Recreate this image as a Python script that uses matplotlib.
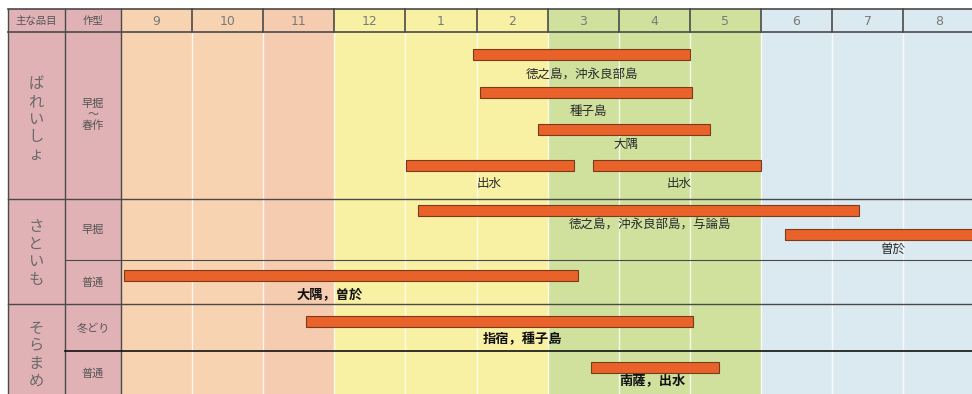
import matplotlib.pyplot as plt
from matplotlib.patches import Rectangle

plt.rcParams['font.family'] = ['Noto Sans CJK JP', 'DejaVu Sans']

# months from September; x axis unit = one month, 0 = start of Sep
months = ['9', '10', '11', '12', '1', '2', '3', '4', '5', '6', '7', '8']
month_colors = ['#f7d3b1', '#f7d3b1', '#f6ccb1',
                '#f8f0a3', '#f8f0a3', '#f8f0a3',
                '#d0e19e', '#d0e19e', '#d0e19e',
                '#dbe9f0', '#dbe9f0', '#dbe9f0']

crops = ['ばれいしょ', 'さといも', 'そらまめ']
crop_types = ['早掘\n～\n春作', '早掘', '普通', '冬どり', '普通']

bar_start = [4.95, 5.05, 5.86, 4.01, 6.64, 4.18, 9.34, 0.04, 2.60, 6.61]
bar_end = [8.00, 8.03, 8.28, 6.37, 9.00, 10.38, 12.30, 6.43, 8.05, 8.41]
bar_labels = ['徳之島，沖永良部島', '種子島', '大隅', '出水', '出水',
              '徳之島，沖永良部島，与論島', '曽於', '大隅，曽於',
              '指宿，種子島', '南薩，出水']
label_x = [6.48, 6.58, 7.10, 5.18, 7.85, 7.44, 10.86, 2.94, 5.64, 7.48]

# layout (pixels from top)
bar_y = [54.5, 92, 129.5, 165.5, 165.5, 210, 234.5, 275, 321.5, 367]
lab_y = [74, 111, 144, 183, 183, 225.5, 249, 294, 339, 380]
bold = [False] * 7 + [True] * 3
crop_y = [119, 253, 355]
type_y = [115, 230, 283, 328, 374]

MW = 71.1
def px(x):
    return (x - 121) / MW

fig = plt.figure(figsize=(9.72, 3.94), dpi=100)
ax = fig.add_axes([0, 0, 1, 1])
ax.set_xlim(px(0), px(972))
ax.set_ylim(394, 0)
ax.axis('off')

top, head_bot, bottom = 9, 32, 394
pink = '#e0b2b5'
grid = '#4a4a4a'

# month columns
for i, c in enumerate(month_colors):
    ax.add_patch(Rectangle((i, top), 1, bottom - top, color=c, zorder=0, lw=0))
    if i > 0:
        ax.plot([i, i], [head_bot, bottom], color='white', lw=1, alpha=0.8, zorder=1)
        ax.plot([i, i], [top, head_bot], color=grid, lw=1.2, zorder=3)
    ax.text(i + 0.5, 21, months[i], ha='center', va='center', fontsize=9,
            color='#7a7a7a', family=['DejaVu Sans'])

# left columns
ax.add_patch(Rectangle((px(8), top), px(121) - px(8), bottom - top, color=pink, zorder=0, lw=0))
for xx in [8, 65, 121]:
    ax.plot([px(xx), px(xx)], [top, bottom], color=grid, lw=1, zorder=3)
ax.text(px(36), 20.5, '主な品目', ha='center', va='center', fontsize=7.5, color='#555555')
ax.text(px(93), 20.5, '作型', ha='center', va='center', fontsize=7.5, color='#555555')

for name, y in zip(crops, crop_y):
    ax.text(px(36), y, '\n'.join(name), ha='center', va='center', fontsize=11,
            color='#6a6a6a', linespacing=1.05)
for name, y in zip(crop_types, type_y):
    ax.text(px(93), y, name, ha='center', va='center', fontsize=8,
            color='#555555', linespacing=1.1)

# horizontal rules
ax.plot([px(8), px(972)], [top, top], color=grid, lw=1.2, zorder=3)
ax.plot([px(8), px(972)], [head_bot, head_bot], color=grid, lw=1.2, zorder=3)
ax.plot([px(8), px(972)], [199, 199], color=grid, lw=1, zorder=3)
ax.plot([px(8), px(972)], [304, 304], color=grid, lw=1, zorder=3)
ax.plot([px(65), px(972)], [260, 260], color=grid, lw=0.8, zorder=3)
ax.plot([px(65), px(972)], [351, 351], color='#111111', lw=1.2, zorder=3)

# bars
ax.barh(bar_y, [e - s for s, e in zip(bar_start, bar_end)], left=bar_start,
        height=11, color='#e8622a', edgecolor='#7a3a1c', lw=0.8, zorder=4)

for lx, ly, t, b in zip(label_x, lab_y, bar_labels, bold):
    ax.text(lx, ly, t, ha='center', va='center', fontsize=9.5 if b else 9,
            color='#111111' if b else '#2a2a2a',
            fontweight='bold' if b else 'normal', zorder=5)

fig.savefig('out.png', dpi=100)
